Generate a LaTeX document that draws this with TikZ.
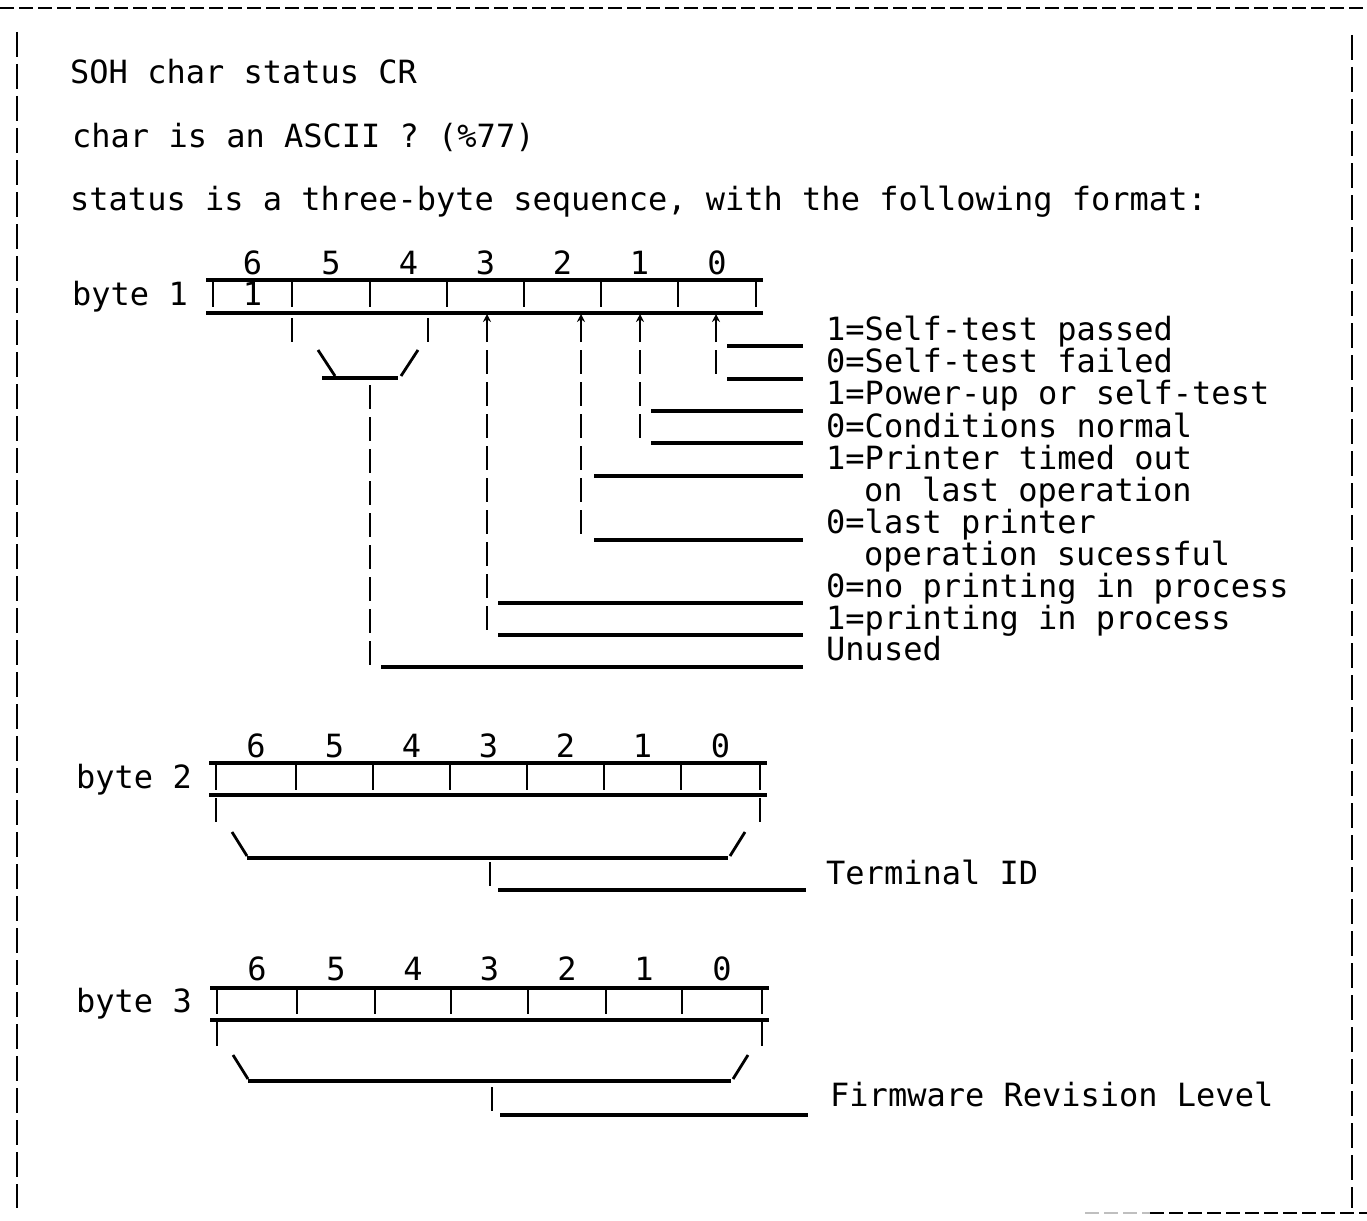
\documentclass[tikz,border=0pt]{standalone}
\usepackage{fontspec}
\newfontfamily\tw{DejaVu Sans Mono}
\usetikzlibrary{arrows.meta}
\begin{document}
\begin{tikzpicture}[x=1pt,y=-1pt,
  tw/.style={font=\tw\fontsize{32}{32}\selectfont, inner sep=0pt, anchor=base west},
  dig/.style={font=\tw\fontsize{32}{32}\selectfont, inner sep=0pt, anchor=base},
  rule/.style={line width=3.2pt},
  bar/.style={line width=2.8pt},
  stack/.style={line width=2.8pt, dash pattern=on 24pt off 8pt},
  border/.style={line width=2.8pt, dash pattern=on 25pt off 7pt},
  hborder/.style={line width=2.8pt, dash pattern=on 14pt off 5pt},
  up/.style={line width=2.8pt, -{Stealth[length=8pt,width=8pt]}}
]
\useasboundingbox (0,0) rectangle (1367,1220);
\fill[white] (0,0) rectangle (1367,1220);

% frame
\coordinate (tl) at (0,8);   \coordinate (tr) at (1367,8);
\coordinate (l1) at (17,32); \coordinate (l2) at (17,1208);
\coordinate (r1) at (1352,35); \coordinate (r2) at (1352,1208);
\coordinate (bl) at (1150,1213); \coordinate (bf) at (1085,1213); \coordinate (br) at (1367,1213);
\draw[hborder] (tl) -- (tr);
\draw[border] (l1) -- (l2);
\draw[border] (r1) -- (r2);
\draw[hborder, gray!50] (bf) -- (bl);
\draw[hborder] (bl) -- (br);

% header text
\node[tw] (t1) at (70,84) {SOH char status CR};
\node[tw] (t2) at (72,147) {char is an ASCII ? (\%77)};
\node[tw] (t3) at (70,210) {status is a three-byte sequence, with the following format:};

% ---------- byte 1 ----------
\foreach \b/\x in {6/252.5,5/331,4/408.5,3/485.5,2/562.5,1/639.5,0/717}
  \node[dig] (a\b) at (\x,274) {\b};
\node[tw] (b1) at (72,305) {byte 1};
\node[dig] (b1v) at (252.5,305) {1};
\draw[rule] (206,280) -- (763,280);
\draw[rule] (206,313) -- (763,313);
\foreach \x in {213,292,370,447,524,601,678,756}
  \draw[bar] (\x,282) -- (\x,307);

% bits 6-4 group
\draw[bar] (292,318) -- (292,342);
\draw[bar] (428,318) -- (428,342);
\draw[bar] (318,350) -- (335,376);
\draw[rule] (322,378) -- (398,378);
\draw[bar] (401,376) -- (418,350);
\draw[stack] (370,385) -- (370,665);

% bit arrows
\foreach \x in {487,581,640,716}
  \draw[up] (\x,342) -- (\x,314);
\draw[stack] (716,350) -- (716,374);
\draw[stack] (640,350) -- (640,438);
\draw[stack] (581,350) -- (581,534);
\draw[stack] (487,350) -- (487,630);

% leader lines
\draw[rule] (727,346) -- (803,346);
\draw[rule] (727,379) -- (803,379);
\draw[rule] (651,411) -- (803,411);
\draw[rule] (651,443) -- (803,443);
\draw[rule] (594,476) -- (803,476);
\draw[rule] (594,540) -- (803,540);
\draw[rule] (498,603) -- (803,603);
\draw[rule] (498,635) -- (803,635);
\draw[rule] (381,667) -- (803,667);

% labels byte 1
\node[tw] (l01) at (826,340) {1=Self-test passed};
\node[tw] (l02) at (826,372) {0=Self-test failed};
\node[tw] (l03) at (826,404) {1=Power-up or self-test};
\node[tw] (l04) at (826,437) {0=Conditions normal};
\node[tw] (l05) at (826,469) {1=Printer timed out};
\node[tw] (l06) at (864,501) {on last operation};
\node[tw] (l07) at (826,533) {0=last printer};
\node[tw] (l08) at (864,565) {operation sucessful};
\node[tw] (l09) at (826,597) {0=no printing in process};
\node[tw] (l10) at (826,629) {1=printing in process};
\node[tw] (l11) at (826,660) {Unused};

% ---------- byte 2 ----------
\foreach \b/\x in {6/256,5/334.5,4/411.5,3/488.5,2/565.5,1/642.5,0/720.5}
  \node[dig] (c\b) at (\x,757) {\b};
\node[tw] (b2) at (76,788) {byte 2};
\draw[rule] (209,763) -- (767,763);
\draw[rule] (209,795) -- (767,795);
\foreach \x in {216,296,373,450,527,604,681,760}
  \draw[bar] (\x,765) -- (\x,790);
\draw[bar] (216,798) -- (216,822);
\draw[bar] (760,798) -- (760,822);
\draw[bar] (232,832) -- (247,856);
\draw[rule] (247,858) -- (728,858);
\draw[bar] (730,856) -- (745,832);
\draw[bar] (490,862) -- (490,886);
\draw[rule] (498,890) -- (806,890);
\node[tw] (tid) at (826,884) {Terminal ID};

% ---------- byte 3 ----------
\foreach \b/\x in {6/257,5/336,4/413,3/489.5,2/567,1/644,0/722}
  \node[dig] (e\b) at (\x,980) {\b};
\node[tw] (b3) at (76,1012) {byte 3};
\draw[rule] (210,988) -- (769,988);
\draw[rule] (210,1020) -- (769,1020);
\foreach \x in {217,297,375,451,528,606,682,762}
  \draw[bar] (\x,990) -- (\x,1014);
\draw[bar] (217,1022) -- (217,1046);
\draw[bar] (762,1022) -- (762,1046);
\draw[bar] (233,1055) -- (248,1079);
\draw[rule] (248,1081) -- (731,1081);
\draw[bar] (733,1079) -- (748,1055);
\draw[bar] (492,1087) -- (492,1111);
\draw[rule] (500,1115) -- (808,1115);
\node[tw] (frl) at (830,1106) {Firmware Revision Level};
\end{tikzpicture}
\end{document}
